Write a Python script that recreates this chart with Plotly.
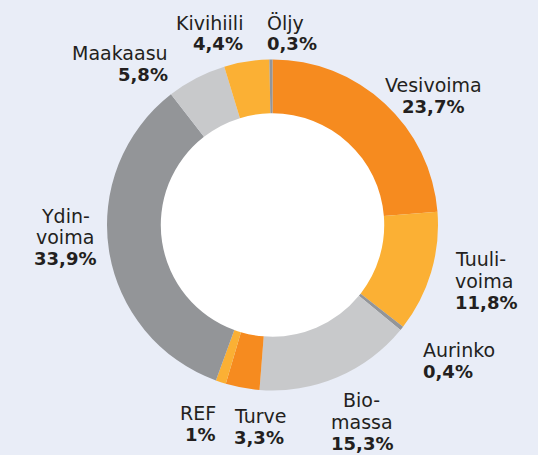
import plotly.graph_objects as go

W, H = 538, 455

# Data (clockwise from 12 o'clock)
categories = ["Vesivoima", "Tuulivoima", "Aurinko", "Biomassa", "Turve", "REF",
              "Ydinvoima", "Maakaasu", "Kivihiili", "Öljy"]
display_lines = [["Vesivoima"], ["Tuuli-", "voima"], ["Aurinko"], ["Bio-", "massa"], ["Turve"], ["REF"],
                 ["Ydin-", "voima"], ["Maakaasu"], ["Kivihiili"], ["Öljy"]]
values = [23.7, 11.8, 0.4, 15.3, 3.3, 1.0, 33.9, 5.8, 4.4, 0.3]
pct_labels = ["23,7%", "11,8%", "0,4%", "15,3%", "3,3%", "1%", "33,9%", "5,8%", "4,4%", "0,3%"]

colors = ["#F68B1F", "#FBB034", "#939598", "#C8C9CB", "#F68B1F", "#FBB034",
          "#939598", "#C8C9CB", "#FBB034", "#939598"]

# label anchor positions in pixels: x, y of first line (visual centre), alignment
label_pos = {
    "Vesivoima": (433, 83, "center"),
    "Tuulivoima": (453, 257.5, "left"),
    "Aurinko": (421, 348, "left"),
    "Biomassa": (362, 398.5, "center"),
    "Turve": (232, 414, "left"),
    "REF": (218, 411, "right"),
    "Ydinvoima": (65, 214, "center"),
    "Maakaasu": (170, 51.5, "right"),
    "Kivihiili": (245, 21, "right"),
    "Öljy": (265, 21, "left"),
}
PITCH = 21.5

cx, cy, R = 272.5, 225, 165.5
HOLE = 0.675
r_in = R * HOLE

fig = go.Figure(go.Pie(
    labels=categories,
    values=values,
    hole=HOLE,
    sort=False,
    direction="clockwise",
    rotation=0,
    marker=dict(colors=colors, line=dict(width=0)),
    textinfo="none",
    hoverinfo="label+percent",
    domain=dict(x=[(cx - R) / W, (cx + R) / W], y=[(H - cy - R) / H, (H - cy + R) / H]),
    showlegend=False,
))

font_family = "DejaVu Sans, sans-serif"
annotations = []
for cat, lines, pct in zip(categories, display_lines, pct_labels):
    x, y, align = label_pos[cat]
    all_lines = [(l, False) for l in lines] + [(pct, True)]
    for i, (txt, bold) in enumerate(all_lines):
        yy = y + i * PITCH + 1.5
        annotations.append(dict(
            x=x / W, y=1 - yy / H, xref="paper", yref="paper",
            xanchor=align, yanchor="middle", align=align,
            text=f"<b>{txt}</b>" if bold else txt, showarrow=False,
            font=dict(family=font_family, size=18 if bold else 19, color="#231F20"),
        ))

fig.update_layout(
    width=W, height=H,
    margin=dict(l=0, r=0, t=0, b=0),
    paper_bgcolor="#E9EDF7",
    plot_bgcolor="#E9EDF7",
    annotations=annotations,
    shapes=[dict(
        type="circle", xref="paper", yref="paper", layer="below",
        x0=(cx - r_in - 1) / W, x1=(cx + r_in + 1) / W,
        y0=1 - (cy + r_in + 1) / H, y1=1 - (cy - r_in - 1) / H,
        fillcolor="#FFFFFF", line=dict(width=0),
    )],
)

fig.write_html(
    "out.html",
    config={"displayModeBar": False},
    post_script="document.body.style.margin='0';document.body.style.background='#E9EDF7';",
)
